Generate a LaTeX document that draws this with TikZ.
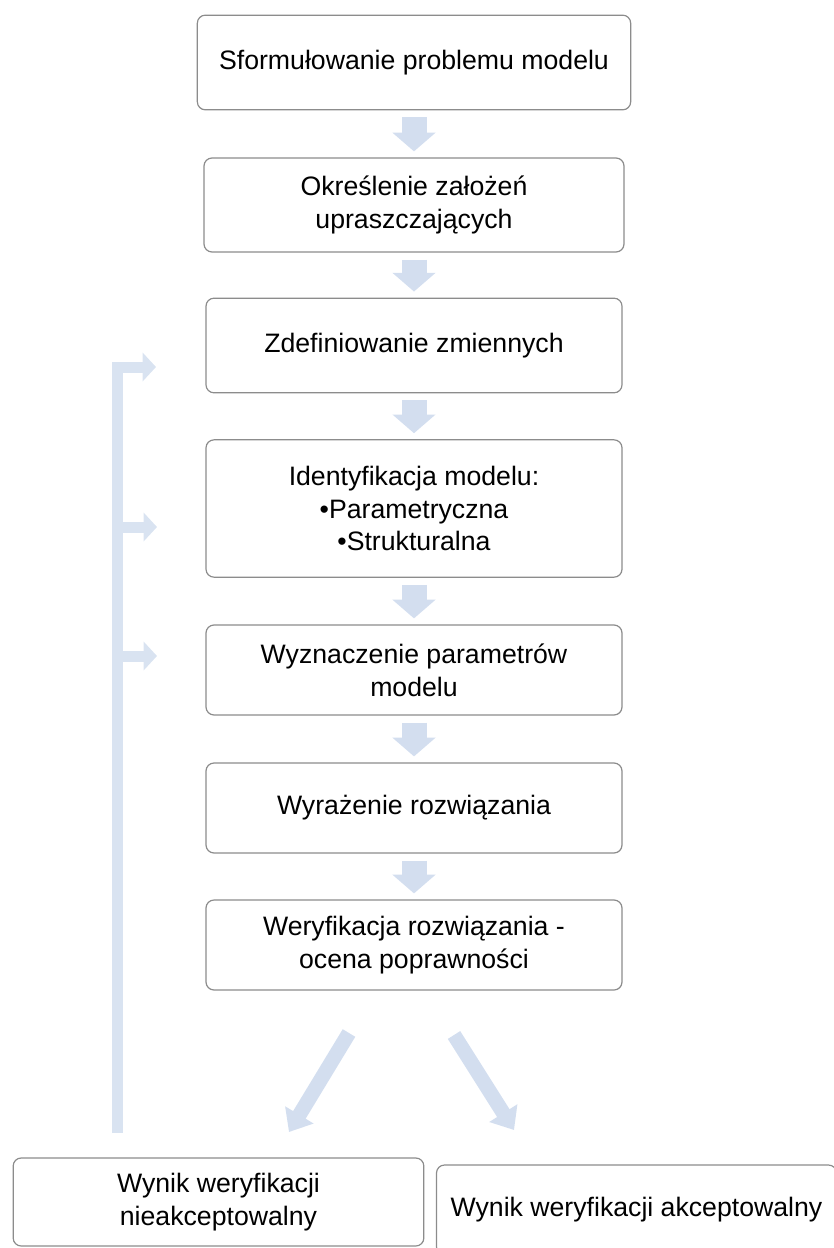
\documentclass[tikz,border=0pt]{standalone}
\usepackage{fontspec}
\setmainfont{Liberation Sans}
\usepackage{xcolor}
\definecolor{boxline}{HTML}{8C8C8C}
\definecolor{arrowblue}{HTML}{D3DEEF}
\definecolor{barblue}{HTML}{D9E3F1}
\usepackage{tikz}
\usetikzlibrary{arrows.meta, positioning, calc}

\begin{document}
\begin{tikzpicture}[
  x=0.75pt, y=-0.75pt,
  every node/.style={font=\fontsize{20}{24.5}\selectfont},
  stepbox/.style={rectangle, rounded corners=6pt, draw=boxline, line width=0.9pt,
                  fill=white, minimum width=312pt, minimum height=67.5pt,
                  align=center, inner sep=3pt},
  flowarr/.style={draw=arrowblue, line width=18.75pt,
                  -{Triangle[length=14pt, width=31.5pt]},
                  shorten <=5.25pt, shorten >=4.5pt},
  backarr/.style={draw=barblue, line width=8.25pt,
                  -{Triangle[length=10pt, width=21pt]}},
  splitarr/.style={draw=arrowblue, line width=11pt,
                   -{Triangle[length=15pt, width=24pt]}}
]
  \useasboundingbox (0,0) rectangle (834,1248);

  \node[stepbox, minimum width=325pt, minimum height=71pt] (b1) at (414,62.5) {Sformułowanie problemu modelu};
  \node[stepbox, minimum width=315pt, minimum height=70.5pt] (b2) at (414,205) {Określenie założeń\\upraszczających};
  \node[stepbox, minimum height=71pt] (b3) at (414,345.5) {Zdefiniowanie zmiennych};
  \node[stepbox, minimum height=103pt] (b4) at (414,508.5) {Identyfikacja modelu:\\\textbullet Parametryczna\\\textbullet Strukturalna};
  \node[stepbox] (b5) at (414,670) {Wyznaczenie parametrów\\modelu};
  \node[stepbox] (b6) at (414,808) {Wyrażenie rozwiązania};
  \node[stepbox] (b7) at (414,945) {Weryfikacja rozwiązania -\\ocena poprawności};
  \node[stepbox, minimum width=308pt, minimum height=66pt] (n1) at (218.5,1202) {Wynik weryfikacji\\nieakceptowalny};
  \node[stepbox, minimum width=300pt] (n2) at (636.5,1210) {Wynik weryfikacji akceptowalny};

  \draw[flowarr] (b1) -- (b2);
  \draw[flowarr] (b2) -- (b3);
  \draw[flowarr] (b3) -- (b4);
  \draw[flowarr] (b4) -- (b5);
  \draw[flowarr] (b5) -- (b6);
  \draw[flowarr] (b6) -- (b7);

  \coordinate (fb) at (117.5,1133);
  \coordinate (t3) at (156,367);
  \coordinate (t4) at (157,527);
  \coordinate (t5) at (157,656);
  \draw[backarr] (fb) |- (t3);
  \draw[backarr] (fb |- t4) -- (t4);
  \draw[backarr] (fb |- t5) -- (t5);

  \coordinate (s1) at (349,1033);
  \coordinate (e1) at (289,1132);
  \coordinate (s2) at (454,1035);
  \coordinate (e2) at (514,1130);
  \draw[splitarr] (s1) -- (e1);
  \draw[splitarr] (s2) -- (e2);
\end{tikzpicture}
\end{document}
